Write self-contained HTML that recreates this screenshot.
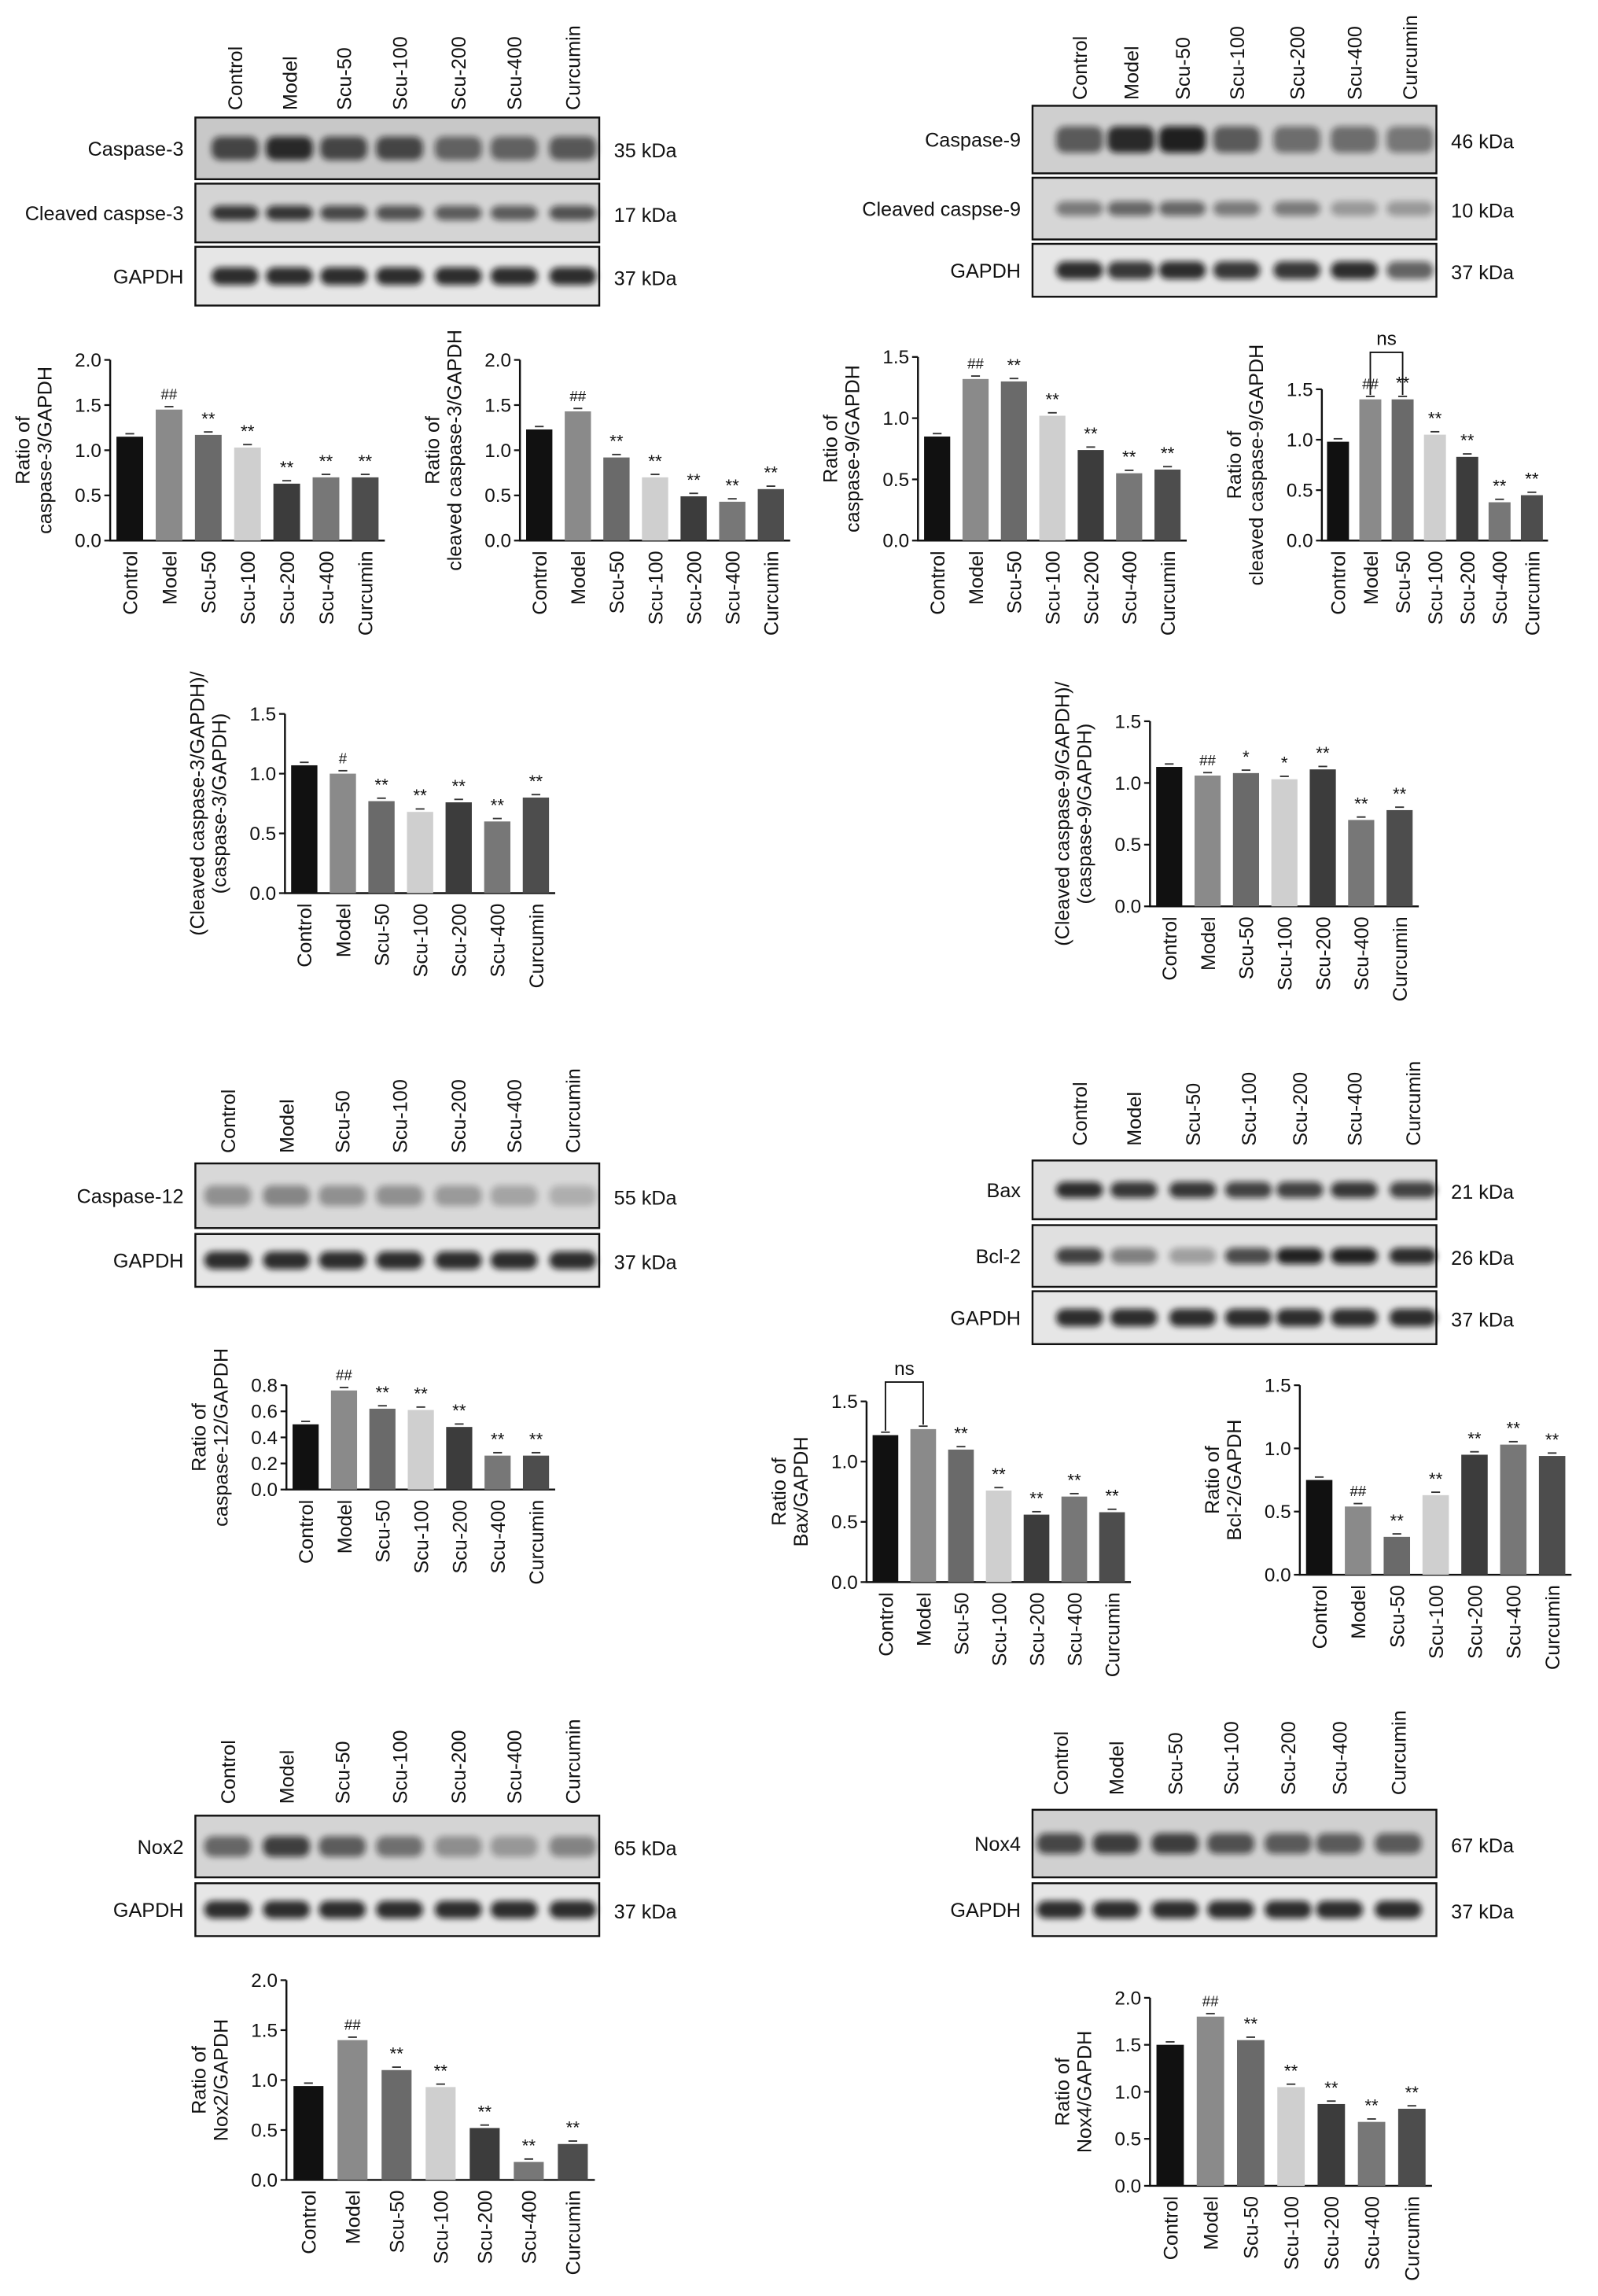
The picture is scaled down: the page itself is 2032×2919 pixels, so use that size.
<!DOCTYPE html>
<html><head><meta charset="utf-8"><style>
html,body{margin:0;padding:0;background:#fff}
svg{display:block}
text{font-family:"Liberation Sans",Arial,sans-serif;fill:#111}
</style></head><body>
<svg id="fig" width="2032" height="2919" viewBox="0 0 1088 1563" xmlns="http://www.w3.org/2000/svg">
<defs><filter id="blur" x="-20%" y="-50%" width="140%" height="200%"><feGaussianBlur stdDeviation="2.2"/></filter></defs>
</svg>
<script>
const lanes = ["Control","Model","Scu-50","Scu-100","Scu-200","Scu-400","Curcumin"];
const barColors = ["#111","#8a8a8a","#6a6a6a","#cfcfcf","#3c3c3c","#777","#4d4d4d"];
// chart values
const casp3 = [1.15,1.45,1.17,1.03,0.63,0.70,0.70];
const clCasp3 = [1.23,1.43,0.92,0.70,0.49,0.43,0.57];
const casp9 = [0.85,1.32,1.30,1.02,0.74,0.55,0.58];
const clCasp9 = [0.98,1.40,1.40,1.05,0.83,0.38,0.45];
const ratio3 = [1.07,1.00,0.77,0.68,0.76,0.60,0.80];
const ratio9 = [1.13,1.06,1.08,1.03,1.11,0.70,0.78];
const casp12 = [0.50,0.76,0.62,0.61,0.48,0.26,0.26];
const bax = [1.22,1.27,1.10,0.76,0.56,0.71,0.58];
const bcl2 = [0.75,0.54,0.30,0.63,0.95,1.03,0.94];
const nox2 = [0.94,1.40,1.10,0.93,0.52,0.18,0.36];
const nox4 = [1.50,1.80,1.55,1.05,0.87,0.68,0.82];
const ticks15 = [0,0.5,1.0,1.5];
const ticks20 = [0,0.5,1.0,1.5,2.0];
const ticks08 = [0,0.2,0.4,0.6,0.8];
const sigA = ["","##","**","**","**","**","**"];
const sigB = ["","#","**","**","**","**","**"];
const sigC = ["","##","*","*","**","**","**"];
const sigD = ["","","**","**","**","**","**"];

const svg = document.getElementById('fig');
const NS = "http://www.w3.org/2000/svg";
function mk(tag, attrs, parent){const e=document.createElementNS(NS,tag);for(const k in attrs)e.setAttribute(k,attrs[k]);(parent||svg).appendChild(e);return e;}
function txt(s, attrs, parent){const e=mk('text',attrs,parent);e.textContent=s;return e;}

function chart(name, values, ticks, ymax, ax, y0, ytop, xend, title, sig, ns){
  const g=mk('g',{});
  
  
  const ys=v=>y0-(v/ymax)*(y0-ytop);
  const slot=(xend-ax)/values.length;
  const bw=slot*0.68;
  const xs=i=>ax+slot*(i+0.5);
  const axis=mk('path',{d:`M${ax} ${ytop} V${y0} H${xend}`,stroke:'#111','stroke-width':1.3,fill:'none'},g);
  
  
  ticks.forEach(t=>{
    mk('line',{x1:ax-4,x2:ax,y1:ys(t),y2:ys(t),stroke:'#111','stroke-width':1.2},g);
    const tl=txt(t.toFixed(1),{x:ax-6,y:ys(t)+4.5,'text-anchor':'end','font-size':13},g);
    
    
  });
  values.forEach((v,i)=>{
    const r=mk('rect',{x:xs(i)-bw/2,y:ys(v),width:bw,height:y0-ys(v),fill:barColors[i]},g);
    
    
    mk('line',{x1:xs(i)-3,x2:xs(i)+3,y1:ys(v)-2,y2:ys(v)-2,stroke:'#333','stroke-width':1},g);
    if(sig[i]){
      const s=txt(sig[i],{x:xs(i),y:ys(v)-7,'text-anchor':'middle','font-size':sig[i].includes('#')?10:12,fill:sig[i].includes('#')?'#777':'#222'},g);
      
      
    }
    const l=txt(lanes[i],{transform:`translate(${xs(i)+5},${y0+7}) rotate(-90)`,'text-anchor':'end','font-size':13.5},g);
    
    
  });
  const my=(ytop+y0)/2;
  const lines=title;
  lines.forEach((ln,k)=>{
    const t=txt(ln,{transform:`translate(${ax-48+k*15-(lines.length-1)*7},${my}) rotate(-90)`,'text-anchor':'middle','font-size':13.5},g);
    
    
  });
  if(ns){
    const a=xs(ns[0]),b=xs(ns[1]);
    const top=Math.min(ys(values[ns[0]]),ys(values[ns[1]]))-32;
    const br=mk('path',{d:`M${a} ${ys(values[ns[0]])-3} V${top} H${b} V${ys(values[ns[1]])-3}`,stroke:'#111','stroke-width':1,fill:'none'},g);
    
    
    const t=txt('ns',{x:(a+b)/2,y:top-5,'text-anchor':'middle','font-size':13},g);
    
    
  }
}

function blot(name, laneX, labelBottom, x0, x1, rows){
  const g=mk('g',{});
  
  
  laneX.forEach((x,i)=>{
    const t=txt(lanes[i],{transform:`translate(${x+5},${labelBottom}) rotate(-90)`,'text-anchor':'start','font-size':13.5},g);
    
    
  });
  rows.forEach(r=>{
    const bg=mk('rect',{x:x0,y:r.y,width:x1-x0,height:r.h,fill:r.bg||'#dcdcdc',stroke:'#111','stroke-width':1.3},g);
    
    
    laneX.forEach((x,i)=>{
      const op=r.int[i];
      const e=mk('rect',{x:x-16,y:r.y+r.h/2-r.bh/2,width:32,height:r.bh,rx:6,fill:'#111',opacity:op,filter:'url(#blur)'},g);
      
      
    });
    const l=txt(r.label,{x:x0-8,y:r.y+r.h/2+5,'text-anchor':'end','font-size':13.5},g);
    
    
    const k=txt(r.kda,{x:x1+10,y:r.y+r.h/2+6,'font-size':13.5},g);
    
    
  });
}
const gap=[0.85,0.85,0.85,0.85,0.85,0.85,0.85];
blot('caspase-3',[160,197,234,272,312,350,390],75,133,408,[
 {y:80,h:42,bh:16,label:'Caspase-3',kda:'35 kDa',int:[0.7,0.85,0.7,0.7,0.55,0.55,0.6],bg:'#c8c8c8'},
 {y:125,h:40,bh:10,label:'Cleaved caspse-3',kda:'17 kDa',int:[0.8,0.8,0.7,0.65,0.6,0.6,0.65],bg:'#d4d4d4'},
 {y:168,h:40,bh:12,label:'GAPDH',kda:'37 kDa',int:gap,bg:'#e6e6e6'}]);
blot('caspase-9',[735,770,805,842,883,922,960],68,703,978,[
 {y:72,h:46,bh:18,label:'Caspase-9',kda:'46 kDa',int:[0.6,0.85,0.9,0.6,0.5,0.5,0.45],bg:'#cfcfcf'},
 {y:121,h:42,bh:10,label:'Cleaved caspse-9',kda:'10 kDa',int:[0.45,0.55,0.55,0.45,0.45,0.3,0.3],bg:'#d6d6d6'},
 {y:166,h:36,bh:12,label:'GAPDH',kda:'37 kDa',int:[0.85,0.8,0.85,0.8,0.8,0.85,0.6],bg:'#e6e6e6'}]);
blot('caspase-12',[155,195,233,272,312,350,390],785,133,408,[
 {y:792,h:44,bh:14,label:'Caspase-12',kda:'55 kDa',int:[0.35,0.4,0.35,0.35,0.3,0.25,0.2],bg:'#d8d8d8'},
 {y:840,h:36,bh:12,label:'GAPDH',kda:'37 kDa',int:gap,bg:'#e6e6e6'}]);
blot('bax-bcl2',[735,772,812,850,885,922,962],780,703,978,[
 {y:790,h:40,bh:11,label:'Bax',kda:'21 kDa',int:[0.85,0.8,0.8,0.75,0.75,0.8,0.75],bg:'#e0e0e0'},
 {y:834,h:42,bh:11,label:'Bcl-2',kda:'26 kDa',int:[0.75,0.45,0.3,0.7,0.9,0.9,0.85],bg:'#e0e0e0'},
 {y:879,h:36,bh:12,label:'GAPDH',kda:'37 kDa',int:gap,bg:'#e6e6e6'}]);
blot('nox2',[155,195,233,272,312,350,390],1228,133,408,[
 {y:1236,h:42,bh:14,label:'Nox2',kda:'65 kDa',int:[0.55,0.75,0.6,0.5,0.35,0.3,0.4],bg:'#d4d4d4'},
 {y:1282,h:36,bh:12,label:'GAPDH',kda:'37 kDa',int:gap,bg:'#e6e6e6'}]);
blot('nox4',[722,760,800,838,877,912,952],1222,703,978,[
 {y:1232,h:46,bh:14,label:'Nox4',kda:'67 kDa',int:[0.7,0.75,0.75,0.65,0.6,0.6,0.6],bg:'#d0d0d0'},
 {y:1282,h:36,bh:12,label:'GAPDH',kda:'37 kDa',int:gap,bg:'#e6e6e6'}]);

chart('caspase-3',casp3,ticks20,2.0,75,368,245,262,['Ratio of','caspase-3/GAPDH'],sigA);
chart('cleaved-caspase-3',clCasp3,ticks20,2.0,354,368,245,538,['Ratio of','cleaved caspase-3/GAPDH'],sigA);
chart('caspase-9',casp9,ticks15,1.5,625,368,243,808,['Ratio of','caspase-9/GAPDH'],sigA);
chart('cleaved-caspase-9',clCasp9,ticks15,1.5,900,368,265,1054,['Ratio of','cleaved caspase-9/GAPDH'],sigA,[1,2]);
chart('ratio-caspase-3',ratio3,ticks15,1.5,194,608,486,378,['(Cleaved caspase-3/GAPDH)/','(caspase-3/GAPDH)'],sigB);
chart('ratio-caspase-9',ratio9,ticks15,1.5,783,617,491,966,['(Cleaved caspase-9/GAPDH)/','(caspase-9/GAPDH)'],sigC);
chart('caspase-12',casp12,ticks08,0.8,195,1014,943,378,['Ratio of','caspase-12/GAPDH'],sigA);
chart('bax',bax,ticks15,1.5,590,1077,954,770,['Ratio of','Bax/GAPDH'],sigD,[0,1]);
chart('bcl-2',bcl2,ticks15,1.5,885,1072,943,1070,['Ratio of','Bcl-2/GAPDH'],sigA);
chart('nox2',nox2,ticks20,2.0,195,1484,1348,405,['Ratio of','Nox2/GAPDH'],sigA);
chart('nox4',nox4,ticks20,2.0,783,1488,1360,975,['Ratio of','Nox4/GAPDH'],sigA);
</script>
</body></html>
